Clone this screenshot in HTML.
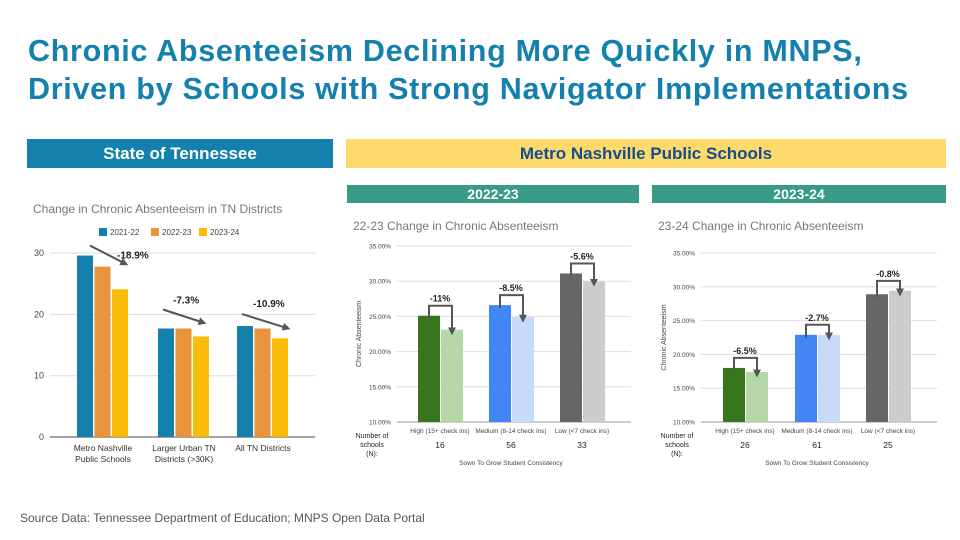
<!DOCTYPE html>
<html><head><meta charset="utf-8">
<style>
html,body{margin:0;padding:0;background:#fff;}
body{width:960px;height:540px;overflow:hidden;position:relative;font-family:"Liberation Sans",sans-serif;}
.title{position:absolute;left:28px;top:32px;font-size:30.5px;font-weight:bold;color:#1380ae;line-height:38px;letter-spacing:0.7px;}
.hdr{position:absolute;display:flex;align-items:center;justify-content:center;font-weight:bold;}
svg{position:absolute;left:0;top:0;}
.src{position:absolute;left:20px;top:511px;font-size:12px;color:#555;}
</style></head>
<body>
<div class="title">Chronic Absenteeism Declining More Quickly in MNPS,<br>Driven by Schools with Strong Navigator Implementations</div>
<div class="hdr" style="left:27px;top:139px;width:306px;height:29px;background:#1380ae;color:#fff;font-size:17px;">State of Tennessee</div>
<div class="hdr" style="left:346px;top:139px;width:600px;height:29px;background:#fcd96a;color:#144e8c;font-size:17px;">Metro Nashville Public Schools</div>
<div class="hdr" style="left:347px;top:185px;width:292px;height:18px;background:#379b86;color:#fff;font-size:14px;">2022-23</div>
<div class="hdr" style="left:652px;top:185px;width:294px;height:18px;background:#379b86;color:#fff;font-size:14px;">2023-24</div>
<svg id="chart" width="960" height="540"></svg>
<div class="src">Source Data: Tennessee Department of Education; MNPS Open Data Portal</div>
<script>
// Chart 1 data
const tnCategories = [["Metro Nashville","Public Schools"],["Larger Urban TN","Districts (>30K)"],["All TN Districts"]];
const tnSeriesNames = ["2021-22","2022-23","2023-24"];
const tn2122 = [29.6, 17.7, 18.1];
const tn2223 = [27.8, 17.7, 17.7];
const tn2324 = [24.1, 16.4, 16.1];
const tnChangeLabels = ["-18.9%","-7.3%","-10.9%"];
const tnTicks = [0,10,20,30];
// Chart 2 data
const mCategories = ["High (15+ check ins)","Medium (8-14 check ins)","Low (<7 check ins)"];
const m22Before = [25.1, 26.6, 31.1];
const m22After = [23.1, 24.9, 30.0];
const m22Labels = ["-11%","-8.5%","-5.6%"];
const m22N = ["16","56","33"];
// Chart 3 data
const m23Before = [18.0, 22.9, 28.9];
const m23After = [17.4, 22.9, 29.4];
const m23Labels = ["-6.5%","-2.7%","-0.8%"];
const m23N = ["26","61","25"];
const mTicks = [10,15,20,25,30,35];

const svg = document.getElementById('chart');
const NS = 'http://www.w3.org/2000/svg';
function mk(tag, attrs, text){
  const e = document.createElementNS(NS, tag);
  for (const k in attrs) e.setAttribute(k, attrs[k]);
  if (text !== undefined) e.textContent = text;
  svg.appendChild(e);
  return e;
}
const defs = mk('defs',{});
defs.innerHTML = '<marker id="ah" markerWidth="4" markerHeight="4" refX="2.2" refY="2" orient="auto" markerUnits="strokeWidth"><path d="M0,0 L4,2 L0,4 z" fill="#555"/></marker>';

// ---------- Chart 1 ----------
const y1 = v => 437 - v * 6.13;
const g1x = i => [103, 184, 263][i];
let t = mk('text',{x:33,y:213,'font-size':12,fill:'#777'},'Change in Chronic Absenteeism in TN Districts');
 
tnTicks.forEach(v=>{
  const l = mk('line',{x1:50,x2:315,y1:y1(v),y2:y1(v),stroke:v===0?'#444':'#ddd','stroke-width':1});
   
  const tt = mk('text',{x:44,y:y1(v)+3,'font-size':9,fill:'#444','text-anchor':'end'},String(v));
   
});
const tnColors = ['#1380ae','#e8943a','#fbbc09'];
const tnSeries = [tn2122, tn2223, tn2324];
const legX = [99, 151, 199];
tnSeriesNames.forEach((n,s)=>{
  const r = mk('rect',{x:legX[s],y:228,width:8,height:8,fill:tnColors[s]});
   
  const tt = mk('text',{x:legX[s]+11,y:235,'font-size':8,fill:'#444'},n);
   
});
// annotation offsets relative to group center / top of tallest bar (layout, not data)
const arrowDx = [[-13,22],[-21,19],[-21,24]];
const arrowDy = [[-10,8],[-19,-6],[-12,2]];
const labelDx = [14,-11,-10];
const labelDy = [3,-25,-19];
tnCategories.forEach((c,i)=>{
  tnSeries.forEach((ser,s)=>{
    const x = g1x(i) - 26 + s*17.5;
    const r = mk('rect',{x:x,y:y1(ser[i]),width:16,height:y1(0)-y1(ser[i]),fill:tnColors[s]});
     
  });
  c.forEach((line,k)=>{
    const tt = mk('text',{x:g1x(i),y:451+k*11,'font-size':8.5,fill:'#333','text-anchor':'middle'},line);
     
  });
  const top = Math.max(tn2122[i],tn2223[i]);
  const a = mk('line',{x1:g1x(i)+arrowDx[i][0],y1:y1(top)+arrowDy[i][0],x2:g1x(i)+arrowDx[i][1],y2:y1(top)+arrowDy[i][1],stroke:'#555','stroke-width':2,'marker-end':'url(#ah)'});
   
  const lt = mk('text',{x:g1x(i)+labelDx[i],y:y1(top)+labelDy[i],'font-size':10,'font-weight':'bold',fill:'#222'},tnChangeLabels[i]);
   
});

// ---------- MNPS charts ----------
function mnps(cfg){
  const y = v => cfg.y10 - (v-10)*(cfg.y10-cfg.y35)/25;
  let tt = mk('text',{x:cfg.x0+8,y:cfg.titleY,'font-size':12,fill:'#777'},cfg.title);
   
  mTicks.forEach(v=>{
    const l = mk('line',{x1:cfg.gx1,x2:cfg.gx2,y1:y(v),y2:y(v),stroke:v===10?'#999':'#ddd','stroke-width':1});
     
    const t2 = mk('text',{x:cfg.gx1-6,y:y(v)+2.5,'font-size':6.5,fill:'#444','text-anchor':'end'},v.toFixed(2)+'%');
     
  });
  const yt = mk('text',{x:0,y:0,'font-size':7,fill:'#444','text-anchor':'middle',transform:'translate('+(cfg.x0+16)+','+((cfg.y10+cfg.y35)/2)+') rotate(-90)'},'Chronic Absenteeism');
   
  const dark = ['#38761d','#4285f4','#666666'];
  const light = ['#b6d7a8','#c9daf8','#cccccc'];
  mCategories.forEach((c,i)=>{
    const cx = cfg.cx[i];
    const b1 = mk('rect',{x:cx-22,y:y(cfg.before[i]),width:22,height:cfg.y10-y(cfg.before[i]),fill:dark[i]});
     
    const b2 = mk('rect',{x:cx+1,y:y(cfg.after[i]),width:22,height:cfg.y10-y(cfg.after[i]),fill:light[i]});
     
    const top = Math.max(cfg.before[i],cfg.after[i]);
    const by = y(top) - 10;
    const p = mk('path',{d:'M'+(cx-11)+','+(y(cfg.before[i])+3)+' L'+(cx-11)+','+by+' L'+(cx+12)+','+by+' L'+(cx+12)+','+(y(cfg.after[i])+2),fill:'none',stroke:'#555','stroke-width':2,'marker-end':'url(#ah)'});
     
    const lt = mk('text',{x:cx,y:by-4,'font-size':9,'font-weight':'bold',fill:'#222','text-anchor':'middle'},cfg.labels[i]);
     
    const xl = mk('text',{x:cx,y:cfg.y10+11,'font-size':6.5,fill:'#444','text-anchor':'middle'},c);
     
    const nl = mk('text',{x:cx,y:cfg.y10+26,'font-size':8.5,fill:'#222','text-anchor':'middle'},cfg.n[i]);
     
  });
  ['Number of','schools','(N):'].forEach((s,k)=>{
    const nt = mk('text',{x:cfg.x0+27,y:cfg.y10+16+k*9,'font-size':7,fill:'#222','text-anchor':'middle'},s);
     
  });
  const xt = mk('text',{x:cfg.xtX,y:cfg.y10+43,'font-size':6.5,fill:'#444','text-anchor':'middle'},'Sown To Grow Student Consistency');
   
}
mnps({title:'22-23 Change in Chronic Absenteeism',x0:345,titleY:230,y10:422,y35:246,gx1:397,gx2:631,cx:[440,511,582],before:m22Before,after:m22After,labels:m22Labels,n:m22N,xtX:511});
mnps({title:'23-24 Change in Chronic Absenteeism',x0:650,titleY:230,y10:422,y35:253,gx1:701,gx2:937,cx:[745,817,888],before:m23Before,after:m23After,labels:m23Labels,n:m23N,xtX:817});
</script>
</body></html>
